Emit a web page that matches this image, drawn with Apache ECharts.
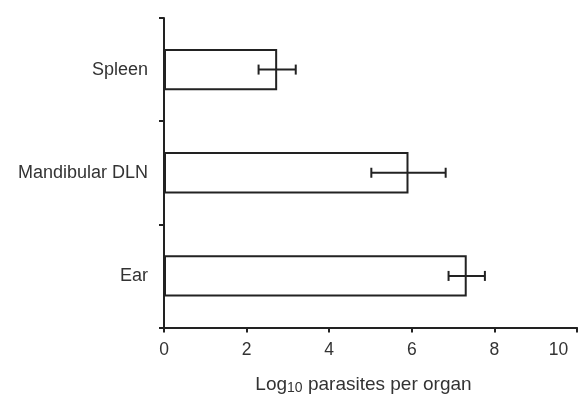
<!DOCTYPE html>
<html><head><meta charset="utf-8">
<script src="https://cdn.jsdelivr.net/npm/echarts@6/dist/echarts.min.js"></script>
<style>html,body{margin:0;padding:0;background:#fff}#c{width:579px;height:401px}</style>
</head><body><div id="c"></div>
<script>
const categories = ['Ear', 'Mandibular DLN', 'Spleen'];
const means = [7.33, 5.92, 2.74];
const errors = [0.44, 0.9, 0.45];
const xTicks = [0, 2, 4, 6, 8, 10];

const chart = echarts.init(document.getElementById('c'));
const errData = categories.map((c, i) => [i, means[i] - errors[i], means[i] + errors[i]]);
const FF = 'Liberation Sans';
chart.setOption({
  animation: false,
  grid: {left: 164, right: 2, top: 18, bottom: 73.5, outerBoundsMode: 'none', containLabel: false},
  xAxis: {
    type: 'value', min: xTicks[0], max: xTicks[xTicks.length - 1], interval: 2,
    axisLine: {show: true, lineStyle: {color: '#222', width: 2}},
    axisTick: {show: true, length: 5, lineStyle: {color: '#222', width: 2}},
    splitLine: {show: false},
    axisLabel: {
      color: '#333', fontSize: 17.5, fontFamily: FF, margin: 14,
      formatter: function (v) { return v === xTicks[xTicks.length - 1] ? '{last|' + v + '}' : String(v); },
      rich: {last: {color: '#333', fontSize: 17.5, fontFamily: FF, padding: [0, 37, 0, 0]}}
    },
    name: 'Log{sub|10} parasites per organ',
    nameLocation: 'middle', nameGap: 47,
    nameTextStyle: {color: '#333', fontSize: 19, fontFamily: FF, padding: [0, 14, 0, 0],
      rich: {
        sub: {fontSize: 14, verticalAlign: 'bottom', padding: [7, 0, 0, 0], fontFamily: FF, color: '#333'}
      }}
  },
  yAxis: {
    type: 'category', data: categories,
    axisLine: {show: true, lineStyle: {color: '#222', width: 2}},
    axisTick: {show: true, length: 5, lineStyle: {color: '#222', width: 2}},
    axisLabel: {color: '#333', fontSize: 18, fontFamily: FF, margin: 16}
  },
  series: [{
    type: 'bar', data: means, barWidth: '40%',
    itemStyle: {color: '#fff', borderColor: '#222', borderWidth: 2}
  }, {
    type: 'custom', data: errData,
    renderItem: function (params, api) {
      const y = api.value(0);
      const p1 = api.coord([api.value(1), y]);
      const p2 = api.coord([api.value(2), y]);
      const h = 5;
      const st = {stroke: '#222', lineWidth: 2};
      return {type: 'group', children: [
        {type: 'line', shape: {x1: p1[0], y1: p1[1], x2: p2[0], y2: p2[1]}, style: st},
        {type: 'line', shape: {x1: p1[0], y1: p1[1] - h, x2: p1[0], y2: p1[1] + h}, style: st},
        {type: 'line', shape: {x1: p2[0], y1: p2[1] - h, x2: p2[0], y2: p2[1] + h}, style: st}
      ]};
    },
    encode: {y: 0, x: [1, 2]}, z: 5
  }]
});
</script></body></html>
